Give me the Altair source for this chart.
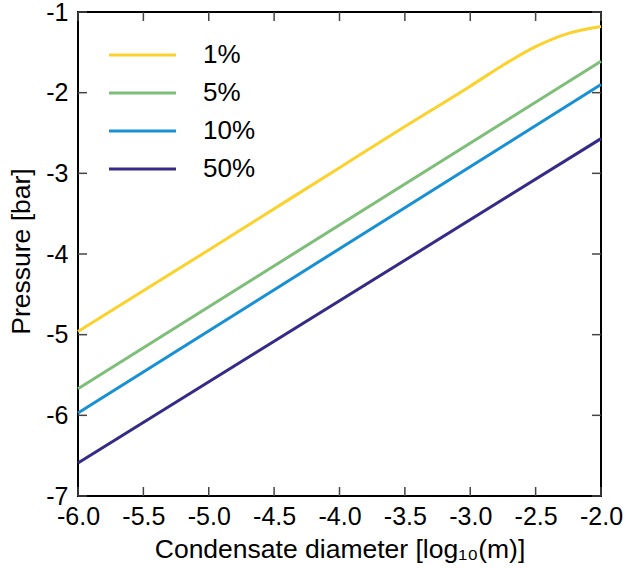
import altair as alt
import pandas as pd

# Series: condensate mass fraction labels and their line colours
labels = ["1%", "5%", "10%", "50%"]
colors = ["#FBD22C", "#7DBE79", "#1890D4", "#352A87"]

# log10 condensate diameter (m) and log10 pressure (bar) for each series
x_1 = [-6.0, -5.0, -4.0, -3.5, -3.0, -2.75, -2.5, -2.25, -2.0]
p_1 = [-4.96, -3.95, -2.93, -2.42, -1.92, -1.66, -1.43, -1.265, -1.18]
x_5 = [-6.0, -2.0]
p_5 = [-5.67, -1.61]
x_10 = [-6.0, -2.0]
p_10 = [-5.97, -1.90]
x_50 = [-6.0, -2.0]
p_50 = [-6.59, -2.57]

# Axis tick values
x_ticks = [-6.0, -5.5, -5.0, -4.5, -4.0, -3.5, -3.0, -2.5, -2.0]
y_ticks = [-7, -6, -5, -4, -3, -2, -1]

FONT = "Liberation Sans"
W, H = 523, 484
TICK = 9

rows = []
for lab, xs, ps in zip(labels, [x_1, x_5, x_10, x_50], [p_1, p_5, p_10, p_50]):
    for xv, pv in zip(xs, ps):
        rows.append({"series": lab, "d": xv, "p": pv})
df = pd.DataFrame(rows)

xscale = alt.Scale(domain=[-6, -2], nice=False, zero=False)
yscale = alt.Scale(domain=[-7, -1], nice=False, zero=False)
cscale = alt.Scale(domain=labels, range=colors)

hyphen_1f = "datum.value < 0 ? '-' + format(abs(datum.value), '.1f') : format(datum.value, '.1f')"
hyphen_0f = "datum.value < 0 ? '-' + format(abs(datum.value), '.0f') : format(datum.value, '.0f')"

x_axis = alt.Axis(
    values=x_ticks, labelExpr=hyphen_1f, ticks=False, domain=False, grid=False,
    labelFontSize=25, labelPadding=8, labelFlush=False, labelOverlap=False,
    title="Condensate diameter [log₁₀(m)]", titleFontSize=26.5,
    titleBaseline="alphabetic", titleY=61, titleX=W / 2,
)
y_axis = alt.Axis(
    values=y_ticks, labelExpr=hyphen_0f, ticks=False, domain=False, grid=False,
    labelFontSize=25, labelPadding=10, labelFlush=False, labelOverlap=False,
    title="Pressure [bar]", titleFontSize=26.5,
    titleBaseline="alphabetic", titleX=-49, titleY=239,
)

X = alt.X("d:Q", scale=xscale, axis=x_axis)
Y = alt.Y("p:Q", scale=yscale, axis=y_axis)

lines = alt.Chart(df).mark_line(strokeWidth=3, interpolate="monotone").encode(
    x=X, y=Y,
    color=alt.Color("series:N", scale=cscale, legend=None),
    detail="series:N",
)

# Inward ticks on all four sides of the frame
xt = pd.DataFrame({"d": x_ticks})
yt = pd.DataFrame({"p": y_ticks})
tick_style = dict(color="#444444", strokeWidth=1.5)
ticks_bottom = alt.Chart(xt).mark_rule(**tick_style).encode(
    x=X, y=alt.value(H), y2=alt.value(H - TICK))
ticks_top = alt.Chart(xt).mark_rule(**tick_style).encode(
    x=X, y=alt.value(0), y2=alt.value(TICK))
ticks_left = alt.Chart(yt).mark_rule(**tick_style).encode(
    y=Y, x=alt.value(0), x2=alt.value(TICK))
ticks_right = alt.Chart(yt).mark_rule(**tick_style).encode(
    y=Y, x=alt.value(W), x2=alt.value(W - TICK))

main = alt.layer(lines, ticks_bottom, ticks_top, ticks_left, ticks_right)

# Legend drawn inside the plot, upper left
leg = pd.DataFrame({"series": labels})
leg_y = alt.Y("series:N", axis=None,
              scale=alt.Scale(type="point", domain=labels, range=[43, 157], padding=0))
legend_lines = alt.Chart(leg).mark_rule(strokeWidth=3).encode(
    x=alt.value(31), x2=alt.value(98), y=leg_y,
    color=alt.Color("series:N", scale=cscale, legend=None),
)
legend_text = alt.Chart(leg).mark_text(
    align="left", baseline="middle", fontSize=26, font=FONT, color="black"
).encode(x=alt.value(125), y=leg_y, text="series:N")

chart = alt.layer(main, legend_lines, legend_text).resolve_scale(
    y="independent"
).properties(
    width=W, height=H,
    autosize=alt.AutoSizeParams(type="none"),
    padding={"left": 78, "top": 12, "right": 25, "bottom": 73},
    background="white",
).configure_view(
    stroke="black", strokeWidth=2
).configure_axis(
    labelFont=FONT, titleFont=FONT, labelColor="black", titleColor="black",
    titleFontWeight="normal",
)

chart.save("out.html", embed_options={"renderer": "svg", "actions": False})
